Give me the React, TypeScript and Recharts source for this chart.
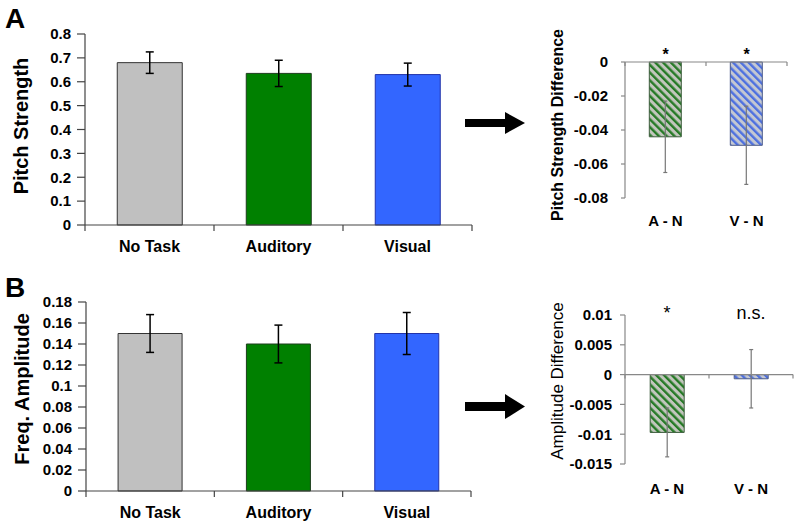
import React from "react";
import {
  BarChart,
  Bar,
  XAxis,
  YAxis,
  Cell,
  ErrorBar,
  ReferenceLine,
} from "recharts";

const FONT = "'Liberation Sans', Arial, sans-serif";

// panel A / B, left: condition means with error bars
const conditions = ["No Task", "Auditory", "Visual"];
const pitchStrength = [0.68, 0.635, 0.63];
const pitchStrengthErr = [0.045, 0.055, 0.048];
const pitchTicks = [0, 0.1, 0.2, 0.3, 0.4, 0.5, 0.6, 0.7, 0.8];

const freqAmplitude = [0.15, 0.14, 0.15];
const freqAmplitudeErr = [0.018, 0.018, 0.02];
const ampTicks = [0, 0.02, 0.04, 0.06, 0.08, 0.1, 0.12, 0.14, 0.16, 0.18];

// panel A / B, right: differences vs. No Task
const contrasts = ["A - N", "V - N"];
const pitchDiff = [-0.044, -0.049];
const pitchDiffErr = [0.021, 0.023];
const pitchSig = ["*", "*"];
const pitchDiffTicks = [-0.08, -0.06, -0.04, -0.02, 0];

const ampDiff = [-0.0097, -0.0007];
const ampDiffErr = [0.0041, 0.0049];
const ampSig = ["*", "n.s."];
const ampDiffTicks = [-0.015, -0.01, -0.005, 0, 0.005, 0.01];

const condFill = ["#c0c0c0", "#008000", "#3366ff"];
const condStroke = ["#333333", "#1d3d1d", "#2233aa"];
const diffFill = ["url(#hatchGreen)", "url(#hatchBlue)"];
const diffStroke = ["#3d5d3d", "#4a5a8a"];

const condData = (vals: number[], errs: number[]) =>
  conditions.map((name, i) => ({ name, value: vals[i], err: errs[i] }));
const diffData = (vals: number[], errs: number[]) =>
  contrasts.map((name, i) => ({ name, value: vals[i], err: errs[i] }));

// axis line at zero with tick marks at category boundaries (Excel style)
const zeroAxis = (n: number, len: number, color: string) => (p: any) => {
  const { x1, y1, x2 } = p;
  const step = (x2 - x1) / n;
  return (
    <g>
      <line x1={x1} y1={y1} x2={x2} y2={y1} stroke={color} strokeWidth={1.2} />
      {Array.from({ length: n + 1 }, (_, i) => (
        <line
          key={i}
          x1={x1 + i * step}
          x2={x1 + i * step}
          y1={y1}
          y2={y1 + len}
          stroke={color}
          strokeWidth={1.2}
        />
      ))}
    </g>
  );
};

const sigTick =
  (labels: string[], dy: number, size: number, weight: number) => (p: any) =>
    (
      <text
        x={p.x}
        y={p.y + dy}
        textAnchor="middle"
        fill="#000"
        fontSize={size}
        fontWeight={weight}
        fontFamily={FONT}
      >
        {labels[p.index]}
      </text>
    );

const boldTick = { fontSize: 15, fontWeight: 700, fill: "#000", fontFamily: FONT };
const catTick = { fontSize: 16, fontWeight: 700, fill: "#000", fontFamily: FONT };

function ConditionChart({
  vals,
  errs,
  ticks,
  height,
  top,
  right,
  yWidth,
  xHeight,
}: {
  vals: number[];
  errs: number[];
  ticks: number[];
  height: number;
  top: number;
  right: number;
  yWidth: number;
  xHeight: number;
}) {
  return (
    <BarChart
      width={480}
      height={height}
      data={condData(vals, errs)}
      margin={{ top, right, left: 0, bottom: 0 }}
      barCategoryGap="25%"
      style={{ fontFamily: FONT }}
    >
      <XAxis
        dataKey="name"
        axisLine={false}
        tickLine={false}
        tickSize={0}
        tickMargin={16}
        height={xHeight}
        tick={catTick}
        interval={0}
      />
      <YAxis
        domain={[ticks[0], ticks[ticks.length - 1]]}
        ticks={ticks}
        width={yWidth}
        tickSize={8}
        tickMargin={6}
        tick={boldTick}
        axisLine={{ stroke: "#444", strokeWidth: 1.2 }}
        tickLine={{ stroke: "#444", strokeWidth: 1.2 }}
        interval={0}
      />
      <Bar dataKey="value" isAnimationActive={false} strokeWidth={1}>
        {conditions.map((c, i) => (
          <Cell key={c} fill={condFill[i]} stroke={condStroke[i]} />
        ))}
        <ErrorBar dataKey="err" width={4} stroke="#000" strokeWidth={1.5} />
      </Bar>
      <ReferenceLine y={0} shape={zeroAxis(3, 6, "#444")} />
    </BarChart>
  );
}

function DiffChart({
  vals,
  errs,
  sig,
  sigDy,
  sigSize,
  sigWeight,
  ticks,
  height,
  top,
  right,
  bottomAxis,
  labelGap,
  yTickSize,
  yTickMargin,
}: {
  vals: number[];
  errs: number[];
  sig: string[];
  sigDy: number;
  sigSize: number;
  sigWeight: number;
  ticks: number[];
  height: number;
  top: number;
  right: number;
  bottomAxis: number;
  labelGap: number;
  yTickSize: number;
  yTickMargin: number;
}) {
  return (
    <BarChart
      width={309}
      height={height}
      data={diffData(vals, errs)}
      margin={{ top, right, left: 0, bottom: 0 }}
      barCategoryGap="30%"
      style={{ fontFamily: FONT }}
    >
      <defs>
        <pattern
          id="hatchGreen"
          patternUnits="userSpaceOnUse"
          width={5.5}
          height={5.5}
          patternTransform="rotate(-45)"
        >
          <rect width={5.5} height={5.5} fill="#c2c6bd" />
          <rect width={2.4} height={5.5} fill="#267a26" />
        </pattern>
        <pattern
          id="hatchBlue"
          patternUnits="userSpaceOnUse"
          width={5.5}
          height={5.5}
          patternTransform="rotate(-45)"
        >
          <rect width={5.5} height={5.5} fill="#c4c8d2" />
          <rect width={2.4} height={5.5} fill="#4d70e0" />
        </pattern>
      </defs>
      <XAxis
        xAxisId="sig"
        orientation="top"
        dataKey="name"
        height={20}
        axisLine={false}
        tickLine={false}
        tickSize={0}
        tickMargin={0}
        tick={sigTick(sig, sigDy, sigSize, sigWeight)}
        interval={0}
      />
      <XAxis
        dataKey="name"
        axisLine={false}
        tickLine={false}
        tickSize={0}
        tickMargin={labelGap}
        height={bottomAxis}
        tick={boldTick}
        interval={0}
      />
      <YAxis
        domain={[ticks[0], ticks[ticks.length - 1]]}
        ticks={ticks}
        width={135}
        tickSize={yTickSize}
        tickMargin={yTickMargin}
        tick={boldTick}
        axisLine={{ stroke: "#888", strokeWidth: 1.2 }}
        tickLine={{ stroke: "#888", strokeWidth: 1.2 }}
        interval={0}
      />
      <Bar dataKey="value" isAnimationActive={false} strokeWidth={1}>
        {contrasts.map((c, i) => (
          <Cell key={c} fill={diffFill[i]} stroke={diffStroke[i]} />
        ))}
        <ErrorBar dataKey="err" width={2} stroke="#777" strokeWidth={1.2} />
      </Bar>
      <ReferenceLine y={0} shape={zeroAxis(2, 4, "#888")} />
    </BarChart>
  );
}

export default function App() {
  return (
    <div
      style={{
        position: "absolute",
        left: 0,
        top: 0,
        width: 799,
        height: 528,
        background: "#fff",
        fontFamily: FONT,
      }}
    >
      <div style={{ position: "absolute", left: 0, top: 0 }}>
        <ConditionChart
          vals={pitchStrength}
          errs={pitchStrengthErr}
          ticks={pitchTicks}
          height={260}
          top={34}
          right={8}
          yWidth={85}
          xHeight={35}
        />
      </div>
      <div style={{ position: "absolute", left: 0, top: 265 }}>
        <ConditionChart
          vals={freqAmplitude}
          errs={freqAmplitudeErr}
          ticks={ampTicks}
          height={263}
          top={37}
          right={9}
          yWidth={86}
          xHeight={37}
        />
      </div>
      <div style={{ position: "absolute", left: 490, top: 0 }}>
        <DiffChart
          vals={pitchDiff}
          errs={pitchDiffErr}
          sig={pitchSig}
          sigDy={-2}
          sigSize={16}
          sigWeight={700}
          ticks={pitchDiffTicks}
          height={260}
          top={42}
          right={12}
          bottomAxis={62}
          labelGap={17}
          yTickSize={4}
          yTickMargin={13}
        />
      </div>
      <div style={{ position: "absolute", left: 490, top: 265 }}>
        <DiffChart
          vals={ampDiff}
          errs={ampDiffErr}
          sig={ampSig}
          sigDy={4}
          sigSize={18}
          sigWeight={400}
          ticks={ampDiffTicks}
          height={263}
          top={30}
          right={6}
          bottomAxis={64}
          labelGap={19}
          yTickSize={5}
          yTickMargin={8}
        />
      </div>
      <svg
        width={799}
        height={528}
        style={{ position: "absolute", left: 0, top: 0, pointerEvents: "none" }}
        fontFamily={FONT}
      >
        <text x={5} y={28} fontSize={28} fontWeight={700}>
          A
        </text>
        <text x={5} y={297} fontSize={28} fontWeight={700}>
          B
        </text>
        <text
          transform="translate(21,126) rotate(-90)"
          textAnchor="middle"
          dominantBaseline="central"
          fontSize={20}
          fontWeight={700}
        >
          Pitch Strength
        </text>
        <text
          transform="translate(22,389) rotate(-90)"
          textAnchor="middle"
          dominantBaseline="central"
          fontSize={20}
          fontWeight={700}
        >
          Freq. Amplitude
        </text>
        <text
          transform="translate(557,125) rotate(-90)"
          textAnchor="middle"
          dominantBaseline="central"
          fontSize={16}
          fontWeight={700}
        >
          Pitch Strength Difference
        </text>
        <text
          transform="translate(557,381) rotate(-90)"
          textAnchor="middle"
          dominantBaseline="central"
          fontSize={17}
        >
          Amplitude Difference
        </text>
        <rect x={465} y={119} width={41} height={8} fill="#000" />
        <polygon points="505,112 525,123 505,134" fill="#000" />
        <rect x={465} y={402} width={41} height={9} fill="#000" />
        <polygon points="505,394 525,406.5 505,419" fill="#000" />
      </svg>
    </div>
  );
}
